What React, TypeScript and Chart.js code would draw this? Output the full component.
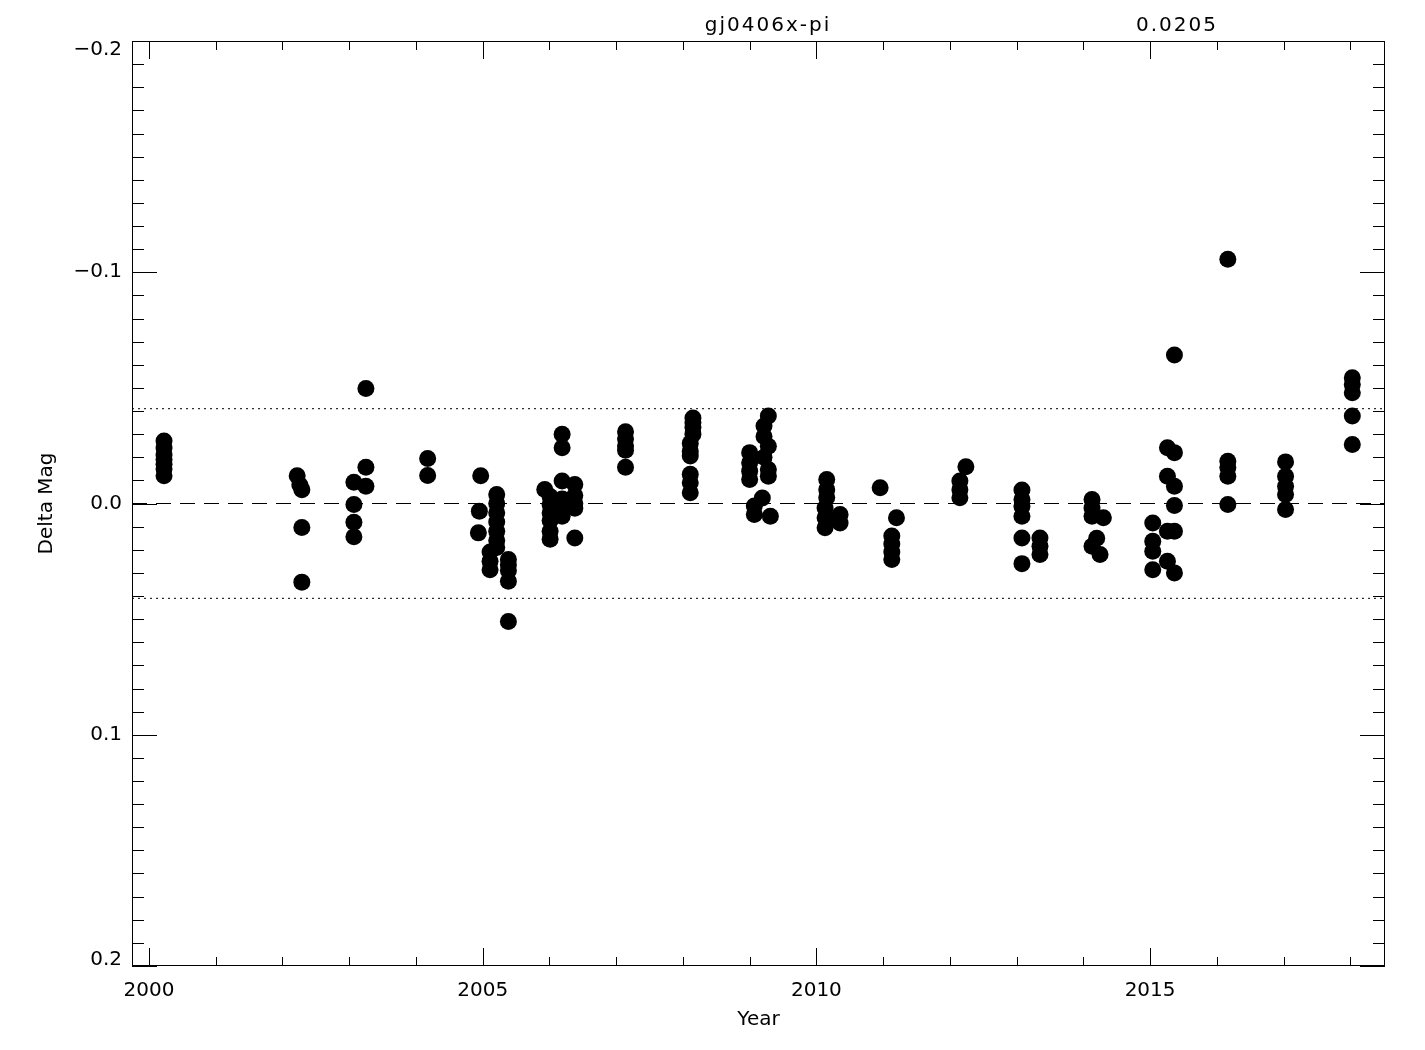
import { useEffect, useRef } from "react";
import { Chart, registerables } from "chart.js";

Chart.register(...registerables);

// Observation epochs (decimal year) and delta magnitudes, one entry per point
const pointYears = [
  2000.225, 2000.225, 2000.225, 2000.225, 2000.225, 2000.225, 2000.225,
  2002.22, 2002.26, 2002.29, 2002.29, 2002.29,
  2003.07, 2003.07, 2003.07, 2003.07,
  2003.25, 2003.25, 2003.25,
  2004.175, 2004.175,
  2004.97, 2004.95, 2004.935,
  2005.11, 2005.11, 2005.11,
  2005.21, 2005.21, 2005.21, 2005.21, 2005.21, 2005.21, 2005.21,
  2005.385, 2005.385, 2005.385, 2005.385, 2005.385,
  2005.93,
  2006.01, 2006.01, 2006.01, 2006.01, 2006.01, 2006.01,
  2006.19, 2006.19, 2006.19, 2006.19, 2006.19, 2006.19,
  2006.38, 2006.38, 2006.38, 2006.38, 2006.38,
  2007.14, 2007.14, 2007.14, 2007.14, 2007.14,
  2008.11, 2008.11, 2008.11, 2008.11, 2008.11, 2008.11,
  2008.15, 2008.15, 2008.15, 2008.15,
  2009.0, 2009.0, 2009.0, 2009.0,
  2009.07, 2009.07,
  2009.19,
  2009.215, 2009.215, 2009.215,
  2009.28, 2009.28, 2009.28, 2009.28,
  2009.31,
  2010.155, 2010.155, 2010.155,
  2010.13, 2010.13, 2010.13,
  2010.355, 2010.355,
  2010.955,
  2011.13, 2011.13, 2011.13, 2011.13,
  2011.2,
  2012.15, 2012.15, 2012.15,
  2012.24,
  2013.08, 2013.08, 2013.08, 2013.08, 2013.08, 2013.08,
  2013.35, 2013.35, 2013.35,
  2014.13, 2014.13, 2014.13, 2014.13,
  2014.2, 2014.25, 2014.3,
  2015.04, 2015.04, 2015.04, 2015.04,
  2015.26, 2015.26, 2015.26, 2015.26,
  2015.365, 2015.365, 2015.365, 2015.365, 2015.365, 2015.365,
  2016.165, 2016.165, 2016.165, 2016.165, 2016.165,
  2017.03, 2017.03, 2017.03, 2017.03, 2017.03,
  2018.03, 2018.03, 2018.03, 2018.03, 2018.03,
];

const deltaMag = [
  -0.027, -0.024, -0.021, -0.019, -0.017, -0.015, -0.012,
  -0.012, -0.008, -0.006, 0.0104, 0.034,
  -0.0092, 0.0004, 0.0081, 0.0144,
  -0.0497, -0.0157, -0.0075,
  -0.0195, -0.0121,
  -0.012, 0.0033, 0.0127,
  0.021, 0.025, 0.0286,
  -0.0039, 0.0, 0.004, 0.008, 0.012, 0.016, 0.019,
  0.0242, 0.0265, 0.029, 0.0336, 0.051,
  -0.0061,
  -0.003, 0.0004, 0.004, 0.0074, 0.012, 0.0155,
  -0.0299, -0.0241, -0.0097, -0.002, 0.0005, 0.0055,
  -0.0082, -0.0035, 0.0, 0.002, 0.0149,
  -0.031, -0.028, -0.025, -0.023, -0.0157,
  -0.026, -0.0226, -0.0205, -0.0126, -0.009, -0.0046,
  -0.037, -0.035, -0.033, -0.03,
  -0.022, -0.0176, -0.014, -0.0104,
  0.0011, 0.0048,
  -0.0024,
  -0.0335, -0.029, -0.02,
  -0.0378, -0.0248, -0.0147, -0.0118,
  0.0055,
  -0.0104, -0.006, -0.0026,
  0.0019, 0.0062, 0.0105,
  0.0048, 0.0084,
  -0.0068,
  0.0141, 0.0175, 0.021, 0.0242,
  0.0062,
  -0.0097, -0.006, -0.0025,
  -0.0159,
  -0.0058, -0.0017, 0.0012, 0.0055, 0.0149, 0.026,
  0.0149, 0.0185, 0.0221,
  -0.0017, 0.0019, 0.0055, 0.0185,
  0.015, 0.0221, 0.0062,
  0.0084, 0.0163, 0.0206, 0.0286,
  -0.0241, -0.0118, 0.012, 0.025,
  -0.0642, -0.022, -0.0075, 0.0009, 0.012, 0.03,
  -0.1056, -0.0183, -0.0156, -0.0118, 0.0004,
  -0.018, -0.0118, -0.0075, -0.0039, 0.0026,
  -0.0544, -0.0515, -0.0479, -0.0378, -0.0255,
];

const xTickYears = [2000, 2005, 2010, 2015];
const yTickValues = [-0.2, -0.1, 0.0, 0.1, 0.2];
const sigmaValue = 0.0205;
const limitLevels = [-2 * sigmaValue, 2 * sigmaValue];
const zeroLevel = 0;
const starName = "gj0406x-pi";
const sigmaLabel = "0.0205";
const xAxisTitle = "Year";
const yAxisTitle = "Delta Mag";

const X_MIN = 1999.745;
const X_MAX = 2018.52;
const Y_MIN = -0.2;
const Y_MAX = 0.2;

const FONT = '"DejaVu Sans", sans-serif';
const FSIZE = 20;

const fmtY = (v: number) => {
  if (Math.abs(v) < 1e-9) return "0.0";
  return (v < 0 ? "\u2212" : "") + Math.abs(v).toFixed(1);
};

const framePlugin = {
  id: "idlFrame",
  afterDraw(chart: any) {
    const { ctx, chartArea: a, scales } = chart;
    const x = scales.x;
    const y = scales.y;
    ctx.save();
    ctx.strokeStyle = "#000";
    ctx.lineWidth = 1;
    ctx.strokeRect(a.left + 0.5, a.top + 0.5, a.right - a.left - 1, a.bottom - a.top - 1);
    const seg = (x1: number, y1: number, x2: number, y2: number) => {
      ctx.beginPath();
      ctx.moveTo(x1, y1);
      ctx.lineTo(x2, y2);
      ctx.stroke();
    };
    for (let yr = Math.ceil(X_MIN); yr <= X_MAX; yr += 1) {
      const px = Math.round(x.getPixelForValue(yr)) + 0.5;
      const len = yr % 5 === 0 ? 18 : 9;
      seg(px, a.bottom, px, a.bottom - len);
      seg(px, a.top, px, a.top + len);
    }
    for (let i = 0; i <= 40; i++) {
      const v = Y_MIN + i * 0.01;
      const py = Math.round(y.getPixelForValue(v)) + 0.5;
      const len = i % 10 === 0 ? 25 : 12;
      seg(a.left, py, a.left + len, py);
      seg(a.right, py, a.right - len, py);
    }
    ctx.fillStyle = "#000";
    ctx.font = `${FSIZE}px ${FONT}`;
    // y tick labels (extreme ones kept inside the frame, as in the original)
    ctx.textAlign = "right";
    ctx.textBaseline = "middle";
    for (const v of yTickValues) {
      let py = y.getPixelForValue(v);
      py = Math.max(a.top + 9, Math.min(a.bottom - 6, py));
      ctx.fillText(fmtY(v), a.left - 10, py);
    }
    ctx.textAlign = "center";
    const w = a.right - a.left;
    (ctx as any).letterSpacing = "2px";
    ctx.fillText(starName, a.left + 0.5076 * w, a.top - 15);
    ctx.fillText(sigmaLabel, a.left + 0.834 * w, a.top - 15);
    (ctx as any).letterSpacing = "0px";
    ctx.restore();
  },
};

export default function App() {
  const canvasRef = useRef<HTMLCanvasElement | null>(null);

  useEffect(() => {
    const canvas = canvasRef.current;
    if (!canvas) return;
    Chart.defaults.color = "#000";
    const points = pointYears.map((yr, i) => ({ x: yr, y: deltaMag[i] }));
    const hLine = (level: number, dash: number[]) => ({
      type: "line" as const,
      data: [
        { x: X_MIN, y: level },
        { x: X_MAX, y: level },
      ],
      borderColor: "#000",
      borderWidth: 1,
      borderDash: dash,
      pointRadius: 0,
      showLine: true,
      fill: false,
    });
    const chart = new Chart(canvas, {
      type: "scatter",
      data: {
        datasets: [
          hLine(zeroLevel, [15, 9]),
          hLine(limitLevels[0], [2, 4]),
          hLine(limitLevels[1], [2, 4]),
          {
            type: "scatter",
            data: points,
            backgroundColor: "#000",
            borderColor: "#000",
            borderWidth: 0,
            pointRadius: 8.5,
            pointHoverRadius: 8.5,
          } as any,
        ],
      },
      options: {
        animation: false,
        responsive: false,
        devicePixelRatio: 1,
        layout: { padding: { top: 41, right: 40, bottom: 0, left: 0 } },
        plugins: {
          legend: { display: false },
          tooltip: { enabled: false },
        },
        scales: {
          x: {
            type: "linear",
            min: X_MIN,
            max: X_MAX,
            grid: { display: false, drawTicks: false },
            border: { display: false },
            afterBuildTicks: (s: any) => {
              s.ticks = xTickYears.map((v) => ({ value: v }));
            },
            afterFit: (s: any) => {
              s.height = 84;
            },
            ticks: {
              padding: 13,
              maxRotation: 0,
              autoSkip: false,
              font: { family: FONT, size: FSIZE },
              color: "#000",
              callback: (v: any) => String(v),
            },
            title: {
              display: true,
              text: xAxisTitle,
              color: "#000",
              font: { family: FONT, size: FSIZE },
              padding: { top: 0, bottom: 18 },
            },
          },
          y: {
            type: "linear",
            min: Y_MIN,
            max: Y_MAX,
            reverse: true,
            grid: { display: false, drawTicks: false },
            border: { display: false },
            afterBuildTicks: (s: any) => {
              s.ticks = yTickValues.map((v) => ({ value: v }));
            },
            afterFit: (s: any) => {
              s.width = 132;
            },
            ticks: {
              display: false,
              autoSkip: false,
            },
            title: {
              display: true,
              text: yAxisTitle,
              color: "#000",
              font: { family: FONT, size: FSIZE },
              padding: { top: 35, bottom: 0 },
            },
          },
        },
      } as any,
      plugins: [framePlugin],
    });
    return () => chart.destroy();
  }, []);

  return (
    <div style={{ position: "absolute", left: 0, top: 0, width: 1425, height: 1050, background: "#fff" }}>
      <canvas ref={canvasRef} width={1425} height={1050} style={{ display: "block", width: 1425, height: 1050 }} />
    </div>
  );
}
